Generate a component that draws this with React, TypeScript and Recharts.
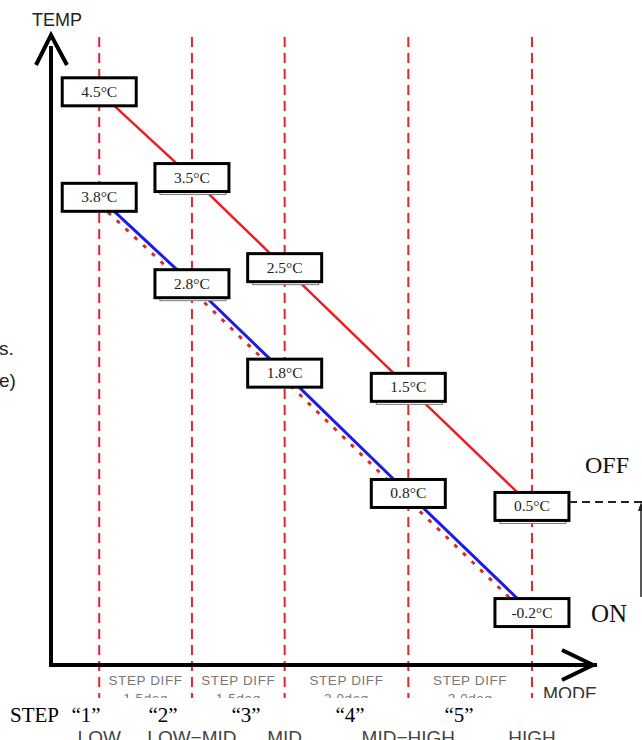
import { Line, LineChart, ReferenceDot, ReferenceLine, XAxis, YAxis } from "recharts";

// fan modes along the MODE axis, placed by cumulative step diff
const modes = ["LOW", "LOW\u2212MID", "MID", "MID\u2212HIGH", "HIGH"];
const modePos = [0, 1.5, 3, 5, 7];
const stepDiffs = ["1.5deg", "1.5deg", "2.0deg", "2.0deg"];
const stepNames = ["\u201C1\u201D", "\u201C2\u201D", "\u201C3\u201D", "\u201C4\u201D", "\u201C5\u201D"];

// OFF / ON temperatures shown in the boxes
const offTemps = ["4.5°C", "3.5°C", "2.5°C", "1.5°C", "0.5°C"];
const onTemps = ["3.8°C", "2.8°C", "1.8°C", "0.8°C", "-0.2°C"];

// drawn heights on the (unscaled) TEMP axis, 0..100
const offLevel = [92.9, 79.0, 64.4, 45.0, 25.7];
const onLevel = [75.8, 61.8, 47.3, 27.8, 8.5];
const onTrace = [74.7, 60.7, 46.2, 26.7, 7.4];

const rows = modePos.map((pos, i) => ({ pos, off: offLevel[i], on: onLevel[i], trace: onTrace[i] }));

const SERIF = "'Liberation Serif', 'Times New Roman', serif";
const SANS = "'Liberation Sans', Arial, sans-serif";
const RED = "#ee1d25";
const BLUE = "#1c1ce4";
const GUIDE = "#e8212b";

const X_DOMAIN: [number, number] = [-0.78, 8.02];

function tempBox(labels: string[], shadow: number[], tag: string) {
  return (p: any) => {
    const { cx, cy, index } = p;
    const w = 74;
    const h = 28;
    return (
      <g key={`${tag}-${index}`}>
        {shadow.includes(index) && (
          <rect x={cx - w / 2 + 5} y={cy + h / 2} width={w - 8} height={3} fill="#fff" stroke="#777" strokeWidth={1} />
        )}
        <rect x={cx - w / 2} y={cy - h / 2} width={w} height={h} fill="#fff" stroke="#000" strokeWidth={3} />
        <text x={cx} y={cy + 5} textAnchor="middle" fontFamily={SERIF} fontSize={15.5} fill="#222">
          {labels[index]}
        </text>
      </g>
    );
  };
}

const ModeTick = (p: any) => (
  <text x={p.x} y={p.y + 79} textAnchor="middle" fontFamily={SANS} fontSize={19} fill="#444">
    {modes[modePos.indexOf(p.payload.value)]}
  </text>
);

const TempArrow = (p: any) => (
  <g>
    <path d={`M${p.cx - 15},${p.cy + 17} L${p.cx},${p.cy - 13} L${p.cx + 16},${p.cy + 17}`} fill="none" stroke="#000" strokeWidth={4} />
    <text x={p.cx - 19} y={p.cy - 22} fontFamily={SANS} fontSize={18} fill="#222">TEMP</text>
  </g>
);

const ModeArrow = (p: any) => (
  <g>
    <path d={`M${p.cx - 33},${p.cy - 15} L${p.cx - 2},${p.cy} L${p.cx - 33},${p.cy + 15}`} fill="none" stroke="#000" strokeWidth={4} />
    <text x={p.cx - 52} y={p.cy + 35} fontFamily={SANS} fontSize={18} fill="#333">MODE</text>
  </g>
);

const diffLabel = (text: string) => (p: any) => (
  <g>
    <text x={p.cx} y={p.cy + 20} textAnchor="middle" fontFamily={SANS} fontSize={13.5} letterSpacing={0.6} fill="#777">STEP DIFF</text>
    <text x={p.cx} y={p.cy + 38} textAnchor="middle" fontFamily={SANS} fontSize={13.5} letterSpacing={0.6} fill="#777">{text}</text>
  </g>
);

const stepX = [86, 163, 246, 350, 459];

export default function App() {
  return (
    <div style={{ position: "relative", width: 642, height: 740, background: "#fff", overflow: "hidden" }}>
      <style>{"body{margin:0}"}</style>
      <LineChart width={642} height={740} data={rows} margin={{ top: 48, right: 47, bottom: 0, left: 0 }}>
        <XAxis
          dataKey="pos"
          type="number"
          domain={X_DOMAIN}
          allowDataOverflow
          ticks={modePos}
          tick={ModeTick}
          tickLine={false}
          tickSize={0}
          tickMargin={0}
          height={75}
          axisLine={{ stroke: "#000", strokeWidth: 4, strokeLinecap: "square" }}
        />
        <YAxis
          type="number"
          domain={[0, 100]}
          allowDataOverflow
          tick={false}
          tickLine={false}
          width={51}
          axisLine={{ stroke: "#000", strokeWidth: 4, strokeLinecap: "square" }}
        />
        {modePos.map((p) => (
          <ReferenceLine
            key={`g${p}`}
            segment={[{ x: p, y: 101.8 }, { x: p, y: -6 }]}
            stroke={GUIDE}
            strokeWidth={2}
            strokeDasharray="10 6"
            ifOverflow="visible"
          />
        ))}
        {stepDiffs.map((d, i) => (
          <ReferenceDot
            key={`d${i}`}
            x={(modePos[i] + modePos[i + 1]) / 2}
            y={0}
            r={0}
            ifOverflow="visible"
            shape={diffLabel(d)}
          />
        ))}
        <ReferenceDot x={X_DOMAIN[0]} y={100} r={0} ifOverflow="visible" shape={TempArrow} />
        <ReferenceDot x={X_DOMAIN[1]} y={0} r={0} ifOverflow="visible" shape={ModeArrow} />
        <Line
          dataKey="off"
          type="linear"
          stroke={RED}
          strokeWidth={2.5}
          dot={tempBox(offTemps, [1, 2, 3, 4], "off")}
          activeDot={false}
          isAnimationActive={false}
        />
        <Line
          dataKey="trace"
          type="linear"
          stroke="#e0282c"
          strokeWidth={3}
          strokeDasharray="4 8"
          dot={false}
          activeDot={false}
          isAnimationActive={false}
        />
        <Line
          dataKey="on"
          type="linear"
          stroke={BLUE}
          strokeWidth={3}
          dot={tempBox(onTemps, [1], "on")}
          activeDot={false}
          isAnimationActive={false}
        />
      </LineChart>
      <svg width={642} height={740} style={{ position: "absolute", left: 0, top: 0, pointerEvents: "none" }}>
        <text x={-1} y={355} fontFamily={SANS} fontSize={19} fill="#222">s.</text>
        <text x={-1} y={387} fontFamily={SANS} fontSize={19} fill="#222">e)</text>
        <text x={585} y={473} fontFamily={SERIF} fontSize={24} fill="#111">OFF</text>
        <text x={591} y={622} fontFamily={SERIF} fontSize={25} fill="#111">ON</text>
        <path d="M569,502 H642" stroke="#222" strokeWidth={2} strokeDasharray="8 5" />
        <path d="M641,508 V597" stroke="#222" strokeWidth={1.5} />
        <path d="M641,502 L638,511 L644,511 Z" fill="#222" />
        <rect x={0} y={698} width={642} height={30} fill="#fff" />
        <text x={10} y={722} fontFamily={SERIF} fontSize={21} fill="#000">STEP</text>
        {stepNames.map((s, i) => (
          <text key={s} x={stepX[i]} y={722} textAnchor="middle" fontFamily={SERIF} fontSize={21} fill="#000">{s}</text>
        ))}
      </svg>
    </div>
  );
}
